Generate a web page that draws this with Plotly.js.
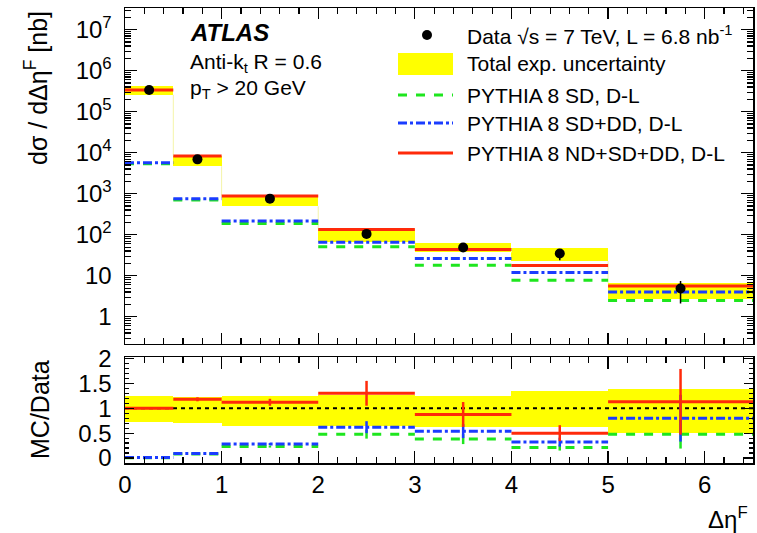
<!DOCTYPE html>
<html>
<head>
<meta charset="utf-8">
<script src="https://cdn.plot.ly/plotly-3.0.1.min.js"></script>
<style>html,body{margin:0;padding:0;background:#fff;}#chart{width:757px;height:533px;}</style>
</head>
<body>
<div id="chart"></div>
<script>
// ---- data ----
const binEdges   = [0, 0.5, 1, 2, 3, 4, 5, 6.5];
const binCenters = [0.25, 0.75, 1.5, 2.5, 3.5, 4.5, 5.75];

const dataXsec   = [3.4e5, 6.9e3, 760, 105, 49, 35, 4.9];
const dataErrUp  = [7e3, 150, 20, 5, 5, 10, 2.5];
const dataErrDn  = [7e3, 150, 20, 5, 5, 11, 2.8];

const bandHigh   = [4.3e5, 8.5e3, 920, 140, 62, 47, 6.6];
const bandLow    = [2.6e5, 4.7e3, 495, 68, 37, 22.6, 2.7];

const pythiaSD     = [5.4e3, 700, 189, 51, 18, 7.8, 2.5];
const pythiaSDDD   = [5.7e3, 753, 218, 66, 26.5, 12, 4.0];
const pythiaNDSDDD = [3.4e5, 8.3e3, 877, 134, 44, 17.8, 5.6];

const ratioBandHigh = [1.25, 1.23, 1.24, 1.27, 1.25, 1.34, 1.39];
const ratioBandLow  = [0.73, 0.70, 0.65, 0.65, 0.63, 0.62, 0.51];
const ratioSD       = [0.006, 0.08, 0.23, 0.48, 0.38, 0.21, 0.48];
const ratioSDErr    = [0, 0.01, 0.02, 0.09, 0.10, 0.06, 0.29];
const ratioSDDD     = [0.01, 0.09, 0.28, 0.62, 0.54, 0.32, 0.80];
const ratioSDDDErr  = [0, 0.01, 0.02, 0.12, 0.14, 0.09, 0.47];
const ratioNDSDDD   = [1.0, 1.18, 1.12, 1.30, 0.875, 0.50, 1.13];
const ratioNDSDDDErr= [0, 0.04, 0.07, 0.25, 0.25, 0.16, 0.66];

const yTickVals = [1, 10, 100, 1e3, 1e4, 1e5, 1e6, 1e7];
const yTickText = ['1', '10', '10<sup>2</sup>', '10<sup>3</sup>', '10<sup>4</sup>', '10<sup>5</sup>', '10<sup>6</sup>', '10<sup>7</sup>'];

// ---- helpers ----
const widths = binCenters.map((c, i) => binEdges[i + 1] - binEdges[i]);
function steps(vals) {
  const x = [], y = [];
  vals.forEach((v, i) => { x.push(binEdges[i], binEdges[i + 1], null); y.push(v, v, null); });
  return {x, y};
}
function outline(lo, hi) {
  const x = [], y = [];
  for (let i = 0; i < lo.length - 1; i++) { x.push(binEdges[i + 1], binEdges[i + 1], null); y.push(lo[i], hi[i + 1], null); }
  return {x, y};
}
const minorLog = [];
for (let d = -1; d < 8; d++) for (let k = 2; k <= 9; k++) minorLog.push(k * Math.pow(10, d));

const RED = '#ff2a0a', BLUE = '#1a3cff', GREEN = '#1ee61e', YEL = '#ffff00';
const FONT = 'Liberation Sans, Arial, Helvetica, sans-serif';

const sSD = steps(pythiaSD), sSDDD = steps(pythiaSDDD), sAll = steps(pythiaNDSDDD);
const rSD = steps(ratioSD), rSDDD = steps(ratioSDDD), rAll = steps(ratioNDSDDD);
const ol = outline(bandLow, bandHigh);

const traces = [
  // top panel
  {type: 'bar', x: binCenters, width: widths, base: bandLow, y: bandHigh.map((h, i) => h - bandLow[i]),
   marker: {color: YEL, line: {width: 0}}, xaxis: 'x', yaxis: 'y', hoverinfo: 'skip'},
  {type: 'scatter', mode: 'lines', x: ol.x, y: ol.y, line: {color: '#f4f4a8', width: 1}, xaxis: 'x', yaxis: 'y'},
  {type: 'scatter', mode: 'lines', x: sSD.x, y: sSD.y, line: {color: GREEN, width: 3, dash: 'dash'}, xaxis: 'x', yaxis: 'y'},
  {type: 'scatter', mode: 'lines', x: sSDDD.x, y: sSDDD.y, line: {color: BLUE, width: 3, dash: 'dashdot'}, xaxis: 'x', yaxis: 'y'},
  {type: 'scatter', mode: 'lines', x: sAll.x, y: sAll.y, line: {color: RED, width: 3}, xaxis: 'x', yaxis: 'y'},
  {type: 'scatter', mode: 'markers', x: binCenters, y: dataXsec,
   error_y: {type: 'data', symmetric: false, array: dataErrUp, arrayminus: dataErrDn, color: '#000', thickness: 1.5, width: 0},
   marker: {color: '#000', size: 10}, xaxis: 'x', yaxis: 'y'},
  // bottom ratio panel
  {type: 'bar', x: binCenters, width: widths, base: ratioBandLow, y: ratioBandHigh.map((h, i) => h - ratioBandLow[i]),
   marker: {color: YEL, line: {width: 0}}, xaxis: 'x2', yaxis: 'y2', hoverinfo: 'skip'},
  {type: 'scatter', mode: 'lines', x: [binEdges[0], binEdges[binEdges.length - 1]], y: [1, 1],
   line: {color: '#000', width: 2, dash: '4px,4px'}, xaxis: 'x2', yaxis: 'y2'},
  {type: 'scatter', mode: 'lines', x: rSD.x, y: rSD.y, line: {color: GREEN, width: 3, dash: 'dash'}, xaxis: 'x2', yaxis: 'y2'},
  {type: 'scatter', mode: 'markers', x: binCenters, y: ratioSD, marker: {size: 1, color: 'rgba(0,0,0,0)'},
   error_y: {type: 'data', array: ratioSDErr, color: GREEN, thickness: 2.5, width: 0}, xaxis: 'x2', yaxis: 'y2'},
  {type: 'scatter', mode: 'lines', x: rSDDD.x, y: rSDDD.y, line: {color: BLUE, width: 3, dash: 'dashdot'}, xaxis: 'x2', yaxis: 'y2'},
  {type: 'scatter', mode: 'markers', x: binCenters, y: ratioSDDD, marker: {size: 1, color: 'rgba(0,0,0,0)'},
   error_y: {type: 'data', array: ratioSDDDErr, color: BLUE, thickness: 2.5, width: 0}, xaxis: 'x2', yaxis: 'y2'},
  {type: 'scatter', mode: 'lines', x: rAll.x, y: rAll.y, line: {color: RED, width: 3}, xaxis: 'x2', yaxis: 'y2'},
  {type: 'scatter', mode: 'markers', x: binCenters, y: ratioNDSDDD, marker: {size: 1, color: 'rgba(0,0,0,0)'},
   error_y: {type: 'data', array: ratioNDSDDDErr, color: RED, thickness: 2.5, width: 0}, xaxis: 'x2', yaxis: 'y2'}
];

// pixel -> paper helpers (plot area: x 125..753, y 8..463)
const L = 125, R = 4, T = 8, B = 70, W = 757, H = 533;
const PW = W - L - R, PH = H - T - B;
const px = v => (v - L) / PW;
const py = v => (H - B - v) / PH;

const axisCommon = {
  showline: true, linecolor: '#000', linewidth: 1.5, mirror: 'allticks',
  ticks: 'inside', tickcolor: '#000', tickwidth: 1.2, showgrid: false, zeroline: false
};

const layout = {
  width: W, height: H,
  margin: {l: L, r: R, t: T, b: B},
  paper_bgcolor: '#fff', plot_bgcolor: '#fff',
  showlegend: false, barmode: 'overlay', bargap: 0,
  font: {family: FONT, color: '#000', size: 21},
  xaxis: Object.assign({}, axisCommon, {
    domain: [0, 1], anchor: 'y', range: [0, 6.5], dtick: 1, ticklen: 11,
    showticklabels: false, minor: {dtick: 0.2, ticklen: 6, ticks: 'inside', tickcolor: '#000'}
  }),
  yaxis: Object.assign({}, axisCommon, {
    domain: [(H - B - 343.5) / PH, 1], anchor: 'x', type: 'log', range: [-0.652, 7.53],
    tickmode: 'array', tickvals: yTickVals, ticktext: yTickText, ticklen: 12,
    tickfont: {size: 24, family: FONT}, ticklabelstandoff: 7,
    minor: {tickmode: 'array', tickvals: minorLog, ticklen: 6, ticks: 'inside', tickcolor: '#000'}
  }),
  xaxis2: Object.assign({}, axisCommon, {
    domain: [0, 1], anchor: 'y2', range: [0, 6.5], dtick: 1, ticklen: 12,
    tickfont: {size: 24, family: FONT}, ticklabelstandoff: 0,
    minor: {dtick: 0.2, ticklen: 6, ticks: 'inside', tickcolor: '#000'}
  }),
  yaxis2: Object.assign({}, axisCommon, {
    domain: [0, (H - B - 357) / PH], anchor: 'x2', range: [-0.1, 2.03],
    tickmode: 'array', tickvals: [0, 0.5, 1, 1.5, 2], ticktext: ['0', '0.5', '1', '1.5', '2'], ticklen: 9,
    tickfont: {size: 24, family: FONT}, ticklabelstandoff: 7,
    minor: {dtick: 0.1, ticklen: 4, ticks: 'inside', tickcolor: '#000'}
  }),
  shapes: [
    {type: 'circle', xref: 'paper', yref: 'paper', xsizemode: 'pixel', ysizemode: 'pixel',
     xanchor: px(427), yanchor: py(35), x0: -5, x1: 5, y0: -5, y1: 5, fillcolor: '#000', line: {width: 0}},
    {type: 'rect', xref: 'paper', yref: 'paper', x0: px(398), x1: px(453), y0: py(75), y1: py(53), fillcolor: YEL, line: {width: 0}},
    {type: 'line', xref: 'paper', yref: 'paper', x0: px(398), x1: px(453), y0: py(95), y1: py(95), line: {color: GREEN, width: 3, dash: 'dash'}},
    {type: 'line', xref: 'paper', yref: 'paper', x0: px(398), x1: px(453), y0: py(123), y1: py(123), line: {color: BLUE, width: 3, dash: 'dashdot'}},
    {type: 'line', xref: 'paper', yref: 'paper', x0: px(398), x1: px(453), y0: py(153), y1: py(153), line: {color: RED, width: 3}}
  ],
  annotations: [
    {xref: 'paper', yref: 'paper', x: px(465), y: py(35), xanchor: 'left', yanchor: 'middle', showarrow: false,
     text: 'Data √s = 7 TeV, L = 6.8 nb<sup>-1</sup>', font: {size: 21}},
    {xref: 'paper', yref: 'paper', x: px(465), y: py(63), xanchor: 'left', yanchor: 'middle', showarrow: false,
     text: 'Total exp. uncertainty', font: {size: 21}},
    {xref: 'paper', yref: 'paper', x: px(465), y: py(95), xanchor: 'left', yanchor: 'middle', showarrow: false,
     text: 'PYTHIA 8 SD, D-L', font: {size: 21}},
    {xref: 'paper', yref: 'paper', x: px(465), y: py(123), xanchor: 'left', yanchor: 'middle', showarrow: false,
     text: 'PYTHIA 8 SD+DD, D-L', font: {size: 21}},
    {xref: 'paper', yref: 'paper', x: px(465), y: py(153), xanchor: 'left', yanchor: 'middle', showarrow: false,
     text: 'PYTHIA 8 ND+SD+DD, D-L', font: {size: 21}},
    {xref: 'paper', yref: 'paper', x: px(188), y: py(32), xanchor: 'left', yanchor: 'middle', showarrow: false,
     text: '<b><i>ATLAS</i></b>', font: {size: 24}},
    {xref: 'paper', yref: 'paper', x: px(188), y: py(63), xanchor: 'left', yanchor: 'middle', showarrow: false,
     text: 'Anti-k<sub>t</sub> R = 0.6', font: {size: 21}},
    {xref: 'paper', yref: 'paper', x: px(188), y: py(89), xanchor: 'left', yanchor: 'middle', showarrow: false,
     text: 'p<sub>T</sub> &gt; 20 GeV', font: {size: 21}},
    {xref: 'paper', yref: 'paper', x: px(36), y: py(88), xanchor: 'center', yanchor: 'middle', showarrow: false,
     textangle: -90, text: 'dσ / dΔη<sup>F</sup> [nb]', font: {size: 25}},
    {xref: 'paper', yref: 'paper', x: px(40), y: py(410), xanchor: 'center', yanchor: 'middle', showarrow: false,
     textangle: -90, text: 'MC/Data', font: {size: 25}},
    {xref: 'paper', yref: 'paper', x: px(750), y: py(518), xanchor: 'right', yanchor: 'middle', showarrow: false,
     text: 'Δη<sup>F</sup>', font: {size: 24}}
  ]
};

Plotly.newPlot('chart', traces, layout, {staticPlot: true, displayModeBar: false});
</script>
</body>
</html>
